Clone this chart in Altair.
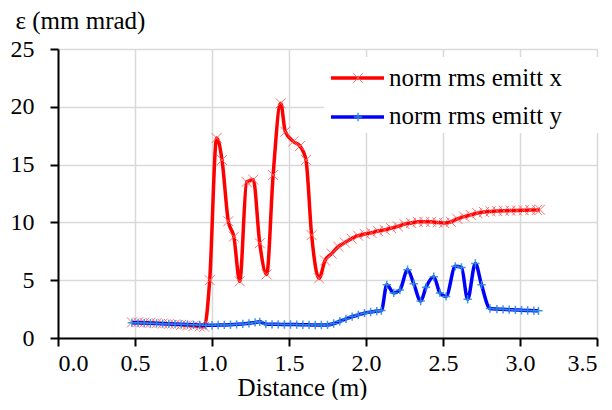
import altair as alt
import pandas as pd

series_names = ["norm rms emitt x", "norm rms emitt y"]
line_colors = ["#FF0000", "#0000FF"]
marker_colors = ["#FF6464", "#2F8FDC"]

# norm rms emitt x
ex_dist = [0.48, 0.52, 0.56, 0.60, 0.64, 0.68, 0.72, 0.76, 0.80, 0.84, 0.88, 0.92, 0.95,
           0.985, 1.03, 1.065, 1.106, 1.142, 1.18, 1.225, 1.268, 1.31, 1.355, 1.397, 1.446,
           1.476, 1.528, 1.571, 1.61, 1.647, 1.695, 1.734, 1.777, 1.82, 1.863, 1.906, 1.949,
           1.992, 2.035, 2.078, 2.121, 2.164, 2.207, 2.25, 2.293, 2.336, 2.379, 2.422, 2.465,
           2.508, 2.551, 2.594, 2.637, 2.68, 2.723, 2.766, 2.809, 2.852, 2.895, 2.938, 2.981,
           3.024, 3.067, 3.11, 3.13]
ex_emit = [1.35, 1.35, 1.33, 1.31, 1.28, 1.25, 1.22, 1.18, 1.14, 1.10, 1.05, 1.00, 0.97,
           5.0, 17.3, 15.4, 10.1, 8.76, 4.9, 13.5, 13.7, 8.2, 5.5, 14.1, 20.3,
           17.85, 17.0, 16.6, 15.4, 8.9, 5.16, 6.7, 7.3, 7.9, 8.25, 8.6, 8.85,
           9.0, 9.1, 9.25, 9.35, 9.5, 9.65, 9.85, 9.95, 10.05, 10.05, 10.05, 10.0,
           9.95, 10.05, 10.3, 10.5, 10.65, 10.8, 10.9, 10.95, 10.98, 11.0, 11.02, 11.03,
           11.05, 11.07, 11.08, 11.1]

# norm rms emitt y
ey_dist = [0.48, 0.52, 0.56, 0.60, 0.64, 0.68, 0.72, 0.76, 0.80, 0.84, 0.88, 0.92, 0.96,
           1.00, 1.04, 1.08, 1.12, 1.16, 1.20, 1.24, 1.28, 1.31, 1.35, 1.39, 1.43, 1.47,
           1.51, 1.55, 1.59, 1.63, 1.67, 1.71, 1.75, 1.79, 1.83, 1.87, 1.91, 1.95, 1.99,
           2.03, 2.07, 2.10, 2.135, 2.18, 2.22, 2.27, 2.31, 2.355, 2.39, 2.44, 2.48, 2.52,
           2.58, 2.62, 2.66, 2.71, 2.75, 2.805, 2.85, 2.89, 2.93, 2.97, 3.01, 3.05, 3.09, 3.12]
ey_emit = [1.32, 1.31, 1.30, 1.28, 1.26, 1.24, 1.22, 1.20, 1.18, 1.16, 1.14, 1.12, 1.10,
           1.10, 1.12, 1.13, 1.15, 1.18, 1.22, 1.27, 1.35, 1.40, 1.20, 1.18, 1.18, 1.17,
           1.17, 1.16, 1.15, 1.14, 1.12, 1.12, 1.13, 1.25, 1.45, 1.65, 1.85, 2.0, 2.15,
           2.25, 2.33, 2.37, 4.6, 3.9, 4.15, 5.9, 4.7, 3.2, 4.4, 5.3, 3.9, 3.6,
           6.2, 6.1, 3.35, 6.45, 4.6, 2.55, 2.5, 2.48, 2.45, 2.43, 2.40, 2.38, 2.36, 2.35]

x_ticks = [0.0, 0.5, 1.0, 1.5, 2.0, 2.5, 3.0, 3.5]
y_ticks = [0, 5, 10, 15, 20, 25]

FONT = "Liberation Serif, DejaVu Serif, Noto Serif, serif"

df_x = pd.DataFrame({"d": ex_dist, "e": ex_emit, "s": series_names[0]})
df_y = pd.DataFrame({"d": ey_dist, "e": ey_emit, "s": series_names[1]})

X = alt.X("d:Q", scale=alt.Scale(domain=[0, 3.5], nice=False),
          axis=alt.Axis(values=x_ticks, format=".1f", title="Distance (m)",
                        labelPadding=5, titleBaseline="alphabetic", titleY=57,
                        titleX=244, titleAlign="center",
                        titleFontSize=25, titleFont=FONT, titleFontWeight="normal",
                        titleColor="black"))
Y = alt.Y("e:Q", scale=alt.Scale(domain=[0, 25], nice=False),
          axis=alt.Axis(values=y_ticks, format="d", title="ε (mm mrad)",
                        labelPadding=16, titleAngle=0, titleX=-43, titleY=-21,
                        titleAlign="left", titleBaseline="alphabetic",
                        titleFontSize=25, titleFont=FONT, titleFontWeight="normal",
                        titleColor="black"))

X_PATH = "M-1,-1L1,1M-1,1L1,-1"
P_PATH = "M-1,0L1,0M0,-1L0,1"

def series_layers(df, i, shape, size, sw):
    line = alt.Chart(df).mark_line(color=line_colors[i], strokeWidth=3.5,
                                   interpolate="monotone").encode(x=X, y=Y)
    pts = alt.Chart(df).mark_point(shape=shape, filled=False, size=size,
                                   strokeWidth=sw, color=marker_colors[i],
                                   opacity=0.9).encode(x=X, y=Y)
    return [line, pts]

one = pd.DataFrame({"a": [0]})
leg_bg = alt.Chart(one).mark_rect(color="white").encode(
    x=alt.value(266), x2=alt.value(541), y=alt.value(8), y2=alt.value(84))

def legend_item(i, ly, ty, shape, size, sw):
    dfl = pd.DataFrame({"name": [series_names[i]]})
    r = alt.Chart(dfl).mark_rule(color=line_colors[i], strokeWidth=3.5).encode(
        x=alt.value(273), x2=alt.value(326), y=alt.value(ly))
    p = alt.Chart(dfl).mark_point(shape=shape, filled=False, size=size, strokeWidth=sw,
                                  color=marker_colors[i], opacity=0.9).encode(
        x=alt.value(300), y=alt.value(ly))
    t = alt.Chart(dfl).mark_text(align="left", baseline="alphabetic", font=FONT,
                                 fontSize=25, color="black").encode(
        x=alt.value(331), y=alt.value(ty), text="name:N")
    return [r, p, t]

layers = [leg_bg]
layers += series_layers(df_x, 0, X_PATH, 100, 1)
layers += series_layers(df_y, 1, P_PATH, 70, 1.5)
layers += legend_item(0, 29, 37, X_PATH, 100, 1)
layers += legend_item(1, 68, 75, P_PATH, 70, 1.5)

chart = alt.layer(*layers).properties(
    width=539, height=289,
    autosize=alt.AutoSizeParams(type="none"),
    padding={"left": 50, "top": 41, "right": 7, "bottom": 62},
).configure_axis(
    labelFont=FONT, labelFontSize=24, labelColor="black",
    domainColor="black", domainWidth=2, tickColor="black", tickWidth=2, tickSize=8,
    gridColor="#D9D9D9", gridWidth=1.5,
).configure_view(stroke=None)

chart.save("out.html", embed_options={"renderer": "svg", "actions": False})
